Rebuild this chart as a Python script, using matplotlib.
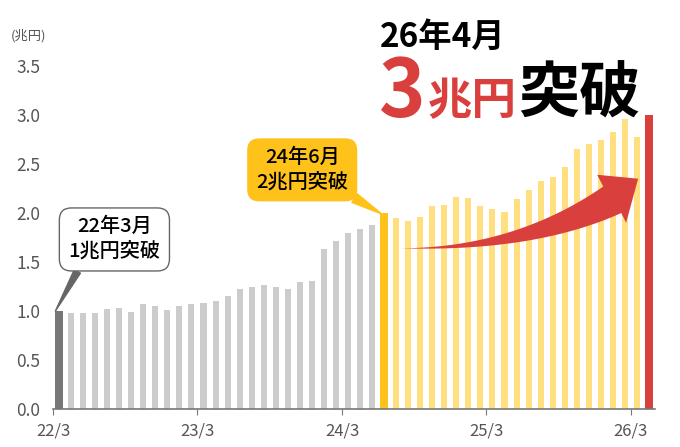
import numpy as np
import matplotlib
matplotlib.use('Agg')
import matplotlib.pyplot as plt
from matplotlib.patches import Polygon

plt.rcParams['font.family'] = ['Noto Sans CJK JP', 'DejaVu Sans']

# monthly values (trillion yen), 22/3 .. 26/4
values = [1.00, 0.98, 0.98, 0.98, 1.02, 1.03, 0.99, 1.07, 1.05, 1.01,
          1.05, 1.07, 1.08, 1.10, 1.15, 1.22, 1.245, 1.265, 1.245, 1.22,
          1.30, 1.31, 1.63, 1.71, 1.80, 1.84, 1.88, 2.00, 1.95, 1.92,
          1.96, 2.07, 2.08, 2.16, 2.15, 2.07, 2.04, 2.01, 2.14, 2.23,
          2.33, 2.37, 2.47, 2.65, 2.70, 2.74, 2.83, 2.96, 2.78, 3.00]
tick_labels = ['22/3', '23/3', '24/3', '25/3', '26/3']
yticks = [0.0, 0.5, 1.0, 1.5, 2.0, 2.5, 3.0, 3.5]

RED = '#d9403d'
GOLD = '#ffc21a'
n = len(values)
x = np.arange(n)
colors = ['#cccccc'] * n
widths = [0.5] * n
colors[0], widths[0] = '#777777', 0.67
colors[27], widths[27] = GOLD, 0.67
for i in range(28, n - 1):
    colors[i] = '#ffdf80'
colors[-1], widths[-1] = RED, 0.67

fig = plt.figure(figsize=(6.8, 4.47), dpi=100)
ax = fig.add_axes([53/680, 38/447, 602/680, 343/447])
ax.bar(x, values, width=widths, color=colors, zorder=2)

ax.set_xlim(-0.5, n - 0.5)
ax.set_ylim(0, 3.5)
ax.set_yticks(yticks)
ax.set_yticklabels(['%.1f' % v for v in yticks])
ax.set_xticks(np.arange(len(tick_labels)) * 12 - 0.5)
ax.set_xticklabels(tick_labels)
for s in ['top', 'right', 'left']:
    ax.spines[s].set_visible(False)
ax.spines['bottom'].set_color('#777777')
ax.spines['bottom'].set_linewidth(1.2)
ax.tick_params(axis='y', length=0, pad=9, labelsize=12.5, labelcolor='#555555')
ax.tick_params(axis='x', length=4, color='#777777', pad=6, labelsize=12, labelcolor='#555555')
fig.text(11/680, 1 - 36/447, '(兆円)', fontsize=9.5, color='#555555', va='center', ha='left')

# curved arrow
def bez(p0, c, p2, t):
    t = t[:, None]
    return (1-t)**2*np.array(p0) + 2*t*(1-t)*np.array(c) + t**2*np.array(p2)

t = np.linspace(0, 1, 40)
tail = (28.4, 1.64)
upper = bez(tail, (37.8, 1.645), (45.2, 2.27), t)
lower = bez(tail, (39.5, 1.60), (46.7, 2.00), t)
head = [(44.7, 2.39), (48.1, 2.35), (47.1, 1.90)]
pts = np.vstack([upper, head, lower[::-1]])
ax.add_patch(Polygon(pts, closed=True, fc=RED, ec='none', zorder=3))

# callouts
ax.annotate('22年3月\n1兆円突破', xy=(-0.3, 1.0), xytext=(4.6, 1.73),
            ha='center', va='center', fontsize=14.5, fontweight='medium',
            linespacing=1.4, color='black',
            bbox=dict(boxstyle='round,pad=0.45,rounding_size=0.6', fc='white', ec='#666666', lw=1),
            arrowprops=dict(arrowstyle='wedge,tail_width=0.35,shrink_factor=0.5',
                            fc='#666666', ec='#666666', relpos=(0.16, 0.02), shrinkA=0, shrinkB=0),
            zorder=5)
ax.annotate('24年6月\n2兆円突破', xy=(26.8, 1.99), xytext=(20.2, 2.44),
            ha='center', va='center', fontsize=14.5, fontweight='medium',
            linespacing=1.4, color='black',
            bbox=dict(boxstyle='round,pad=0.45,rounding_size=0.6', fc=GOLD, ec='none'),
            arrowprops=dict(arrowstyle='wedge,tail_width=0.5,shrink_factor=0.5',
                            fc=GOLD, ec=GOLD, relpos=(0.92, 0.05), shrinkA=0, shrinkB=0),
            zorder=5)

# headline
def ftxt(px, py, s, **kw):
    fig.text(px/680, 1 - py/447, s, va='baseline', ha='left', fontweight='bold', **kw)

ftxt(380, 47, '26年4月', fontsize=24, color='black')
ftxt(379, 117, '3', fontsize=57, color=RED)
ftxt(428, 114, '兆円', fontsize=32, color=RED)
ftxt(518, 113, '突破', fontsize=44, color='black')

plt.savefig('out.png', dpi=100)
